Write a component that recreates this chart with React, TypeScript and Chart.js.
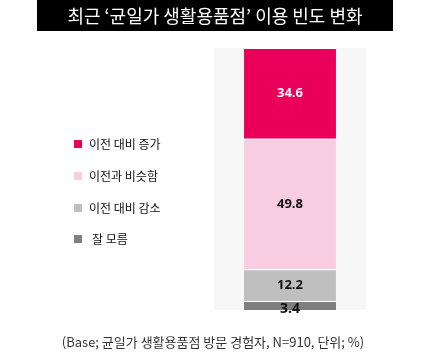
import React, { useEffect, useRef } from "react";
import { Chart, registerables } from "chart.js";

Chart.register(...registerables);

const titleText = "최근 ‘균일가 생활용품점’ 이용 빈도 변화";
const footnote = "(Base; 균일가 생활용품점 방문 경험자, N=910, 단위; %)";
const categories = ["이용 빈도"];
// stacked from bottom to top
const seriesNames = ["잘 모름", "이전 대비 감소", "이전과 비슷함", "이전 대비 증가"];
const seriesValues = [3.4, 12.2, 49.8, 34.6];
const seriesColors = ["#7F7F7F", "#BFBFBF", "#F9CDE1", "#EA005A"];
const labelColors = ["#111111", "#111111", "#111111", "#FFFFFF"];
// legend order top to bottom
const legendOrder = [3, 2, 1, 0];

const FONT = "'Noto Sans CJK KR', 'Noto Sans', sans-serif";

export default function App() {
  const ref = useRef<HTMLCanvasElement>(null);
  useEffect(() => {
    document.body.style.margin = "0";
    const canvas = ref.current!;
    const decor = {
      id: "decor",
      beforeDraw(chart: any) {
        const { ctx, chartArea } = chart;
        ctx.save();
        ctx.fillStyle = "#FFFFFF";
        ctx.fillRect(0, 0, chart.width, chart.height);
        // title box
        ctx.fillStyle = "#000000";
        ctx.fillRect(37, 0, 356, 31);
        ctx.fillStyle = "#FFFFFF";
        ctx.font = `18px ${FONT}`;
        ctx.textAlign = "center";
        ctx.textBaseline = "middle";
        ctx.fillText(titleText, 215, 16);
        // plot background
        ctx.fillStyle = "#F7F7F7";
        ctx.fillRect(chartArea.left, chartArea.top, chartArea.right - chartArea.left, chartArea.bottom - chartArea.top);
        // legend
        ctx.font = `12px ${FONT}`;
        ctx.textAlign = "left";
        ctx.textBaseline = "middle";
        const ys = [144, 176, 208, 239];
        legendOrder.forEach((di, i) => {
          const y = ys[i];
          ctx.fillStyle = seriesColors[di];
          ctx.fillRect(74, y - 4, 8, 8);
          ctx.fillStyle = "#111111";
          ctx.fillText(seriesNames[di], di === 0 ? 92 : 89, y);
        });
        // footnote
        ctx.fillStyle = "#333333";
        ctx.font = `13px ${FONT}`;
        ctx.textAlign = "center";
        ctx.fillText(footnote, 213, 342);
        ctx.restore();
      },
      afterDatasetsDraw(chart: any) {
        const { ctx } = chart;
        ctx.save();
        ctx.textAlign = "center";
        ctx.textBaseline = "middle";
        chart.data.datasets.forEach((ds: any, i: number) => {
          const meta = chart.getDatasetMeta(i);
          meta.data.forEach((el: any, j: number) => {
            const v = ds.data[j];
            const yc = (el.y + el.base) / 2;
            ctx.fillStyle = labelColors[i];
            ctx.font = `bold ${i === 0 ? 14 : 13}px 'Open Sans', 'Noto Sans', sans-serif`;
            ctx.fillText(v.toFixed(1), el.x, yc + (i === 0 ? 3 : 0));
          });
        });
        ctx.restore();
      },
    };
    const chart = new Chart(canvas, {
      type: "bar",
      data: {
        labels: categories,
        datasets: seriesValues.map((v, i) => ({
          label: seriesNames[i],
          data: [v],
          backgroundColor: seriesColors[i],
          borderColor: "#FFFFFF",
          borderWidth: { top: 1, bottom: 0, left: 0, right: 0 },
          borderSkipped: false,
          categoryPercentage: 1,
          barPercentage: 0.605,
        })),
      },
      options: {
        responsive: false,
        animation: false,
        layout: { padding: { left: 214, right: 65, top: 48, bottom: 45 } },
        plugins: { legend: { display: false }, tooltip: { enabled: false }, title: { display: false } },
        scales: {
          x: { stacked: true, display: false },
          y: { stacked: true, display: false, min: 0, max: 100 },
        },
      },
      plugins: [decor],
    });
    return () => chart.destroy();
  }, []);
  return (
    <div style={{ width: 431, height: 355 }}>
      <canvas ref={ref} width={431} height={355} style={{ display: "block" }} />
    </div>
  );
}
